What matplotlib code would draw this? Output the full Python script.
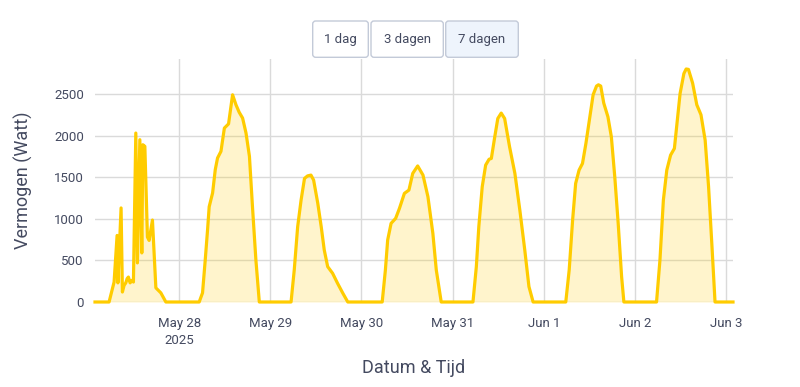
import matplotlib
matplotlib.use("Agg")
import matplotlib.pyplot as plt
from matplotlib.patches import FancyBboxPatch
from matplotlib.transforms import IdentityTransform
import pandas as pd

plt.rcParams["font.family"] = ["Roboto", "DejaVu Sans"]

# window shown by the "7 dagen" view
start = "2025-05-27 01:50"
end = "2025-06-03 01:50"

# per day: hour of day -> power (W)
may27_hours = [5.54, 6.86, 7.65, 7.86, 8.70, 9.05, 9.49, 9.94, 10.29, 10.63, 11.08, 11.53, 11.95,
               12.58, 13.00, 13.64, 14.16, 14.43, 14.96, 15.64, 16.09, 16.96, 17.86, 19.17, 20.49]
may27_watts = [0, 240, 800, 230, 1130, 120, 200, 230, 280, 300, 230, 260, 240,
               2030, 470, 1950, 590, 1890, 1870, 780, 740, 985, 170, 110, 0]

may28_hours = [5.27, 6.15, 6.86, 7.47, 7.9, 8.8, 9.5, 10.1, 11.0, 11.9, 13.0, 14.06, 14.95,
               15.8, 16.7, 17.6, 18.5, 19.3, 20.2, 21.1]
may28_watts = [0, 110, 505, 865, 1145, 1310, 1590, 1730, 1810, 2090, 2140, 2490, 2370,
               2280, 2210, 2030, 1750, 1145, 505, 0]

may29_hours = [5.46, 6.3, 7.2, 8.1, 9.0, 9.8, 10.7, 11.4, 12.5, 13.4, 14.2, 15.1, 16.4, 17.7, 19.1, 20.4]
may29_watts = [0, 385, 905, 1225, 1485, 1515, 1525, 1465, 1185, 905, 625, 425, 345, 225, 105, 0]

may30_hours = [5.46, 6.3, 6.9, 7.8, 9.0, 10.0, 11.3, 12.5, 13.5, 14.8, 16.2, 17.5, 18.8, 19.7, 21.0]
may30_watts = [0, 385, 745, 945, 1005, 1125, 1305, 1345, 1545, 1635, 1525, 1265, 825, 385, 0]

may31_hours = [5.36, 6.25, 6.9, 7.8, 8.7, 9.6, 10.2, 11.1, 11.9, 12.8, 13.7, 15.0, 16.4, 17.7, 19.0, 20.1, 21.2]
may31_watts = [0, 425, 905, 1385, 1645, 1715, 1725, 1985, 2205, 2270, 2205, 1865, 1545, 1105, 625, 185, 0]

jun1_hours = [5.8, 6.7, 7.6, 8.4, 9.3, 10.2, 11.1, 12.0, 13.0, 13.9, 14.4, 15.0, 15.8, 16.9,
              17.8, 18.7, 19.6, 20.5, 21.1]
jun1_watts = [0, 385, 985, 1425, 1585, 1665, 1905, 2185, 2490, 2595, 2610, 2595, 2390, 2225,
              1985, 1505, 945, 305, 0]

jun2_hours = [5.7, 6.6, 7.5, 8.4, 9.4, 10.4, 11.0, 11.9, 12.9, 13.5, 14.1, 15.2, 16.3, 17.4,
              18.5, 19.4, 20.3, 21.1]
jun2_watts = [0, 505, 1225, 1585, 1765, 1845, 2105, 2505, 2745, 2800, 2795, 2630, 2370, 2250,
              1945, 1385, 665, 0]

days = ["2025-05-27", "2025-05-28", "2025-05-29", "2025-05-30", "2025-05-31", "2025-06-01", "2025-06-02"]
day_hours = [may27_hours, may28_hours, may29_hours, may30_hours, may31_hours, jun1_hours, jun2_hours]
day_watts = [may27_watts, may28_watts, may29_watts, may30_watts, may31_watts, jun1_watts, jun2_watts]

tick_dates = ["2025-05-28", "2025-05-29", "2025-05-30", "2025-05-31", "2025-06-01", "2025-06-02", "2025-06-03"]
tick_labels = ["May 28\n2025", "May 29", "May 30", "May 31", "Jun 1", "Jun 2", "Jun 3"]
range_buttons = ["1 dag", "3 dagen", "7 dagen"]

# build one series
times = [pd.Timestamp(start)]
watts = [0]
for day, hrs, vals in zip(days, day_hours, day_watts):
    for h, v in zip(hrs, vals):
        times.append(pd.Timestamp(day) + pd.Timedelta(hours=h))
        watts.append(v)
times.append(pd.Timestamp(end))
watts.append(0)

text_color = "#444a60"
grid_color = "#dadada"
line_color = "#ffcc00"

fig = plt.figure(figsize=(8, 3.87), dpi=100)
ax = fig.add_axes([95 / 800, 85 / 387, 638 / 800, 243 / 387])

ax.fill_between(times, watts, 0, color=line_color, alpha=0.2, linewidth=0)
ax.plot(times, watts, color=line_color, linewidth=2.3, solid_joinstyle="round", clip_on=False)

ax.set_xlim(pd.Timestamp(start), pd.Timestamp(end))
ax.set_ylim(0, 2920)
ax.set_yticks([0, 500, 1000, 1500, 2000, 2500])
ax.set_xticks([pd.Timestamp(d) for d in tick_dates])
ax.set_xticklabels(tick_labels, linespacing=1.35)

ax.grid(True, color=grid_color, linewidth=1)
ax.set_axisbelow(True)
for s in ax.spines.values():
    s.set_visible(False)
ax.tick_params(axis="both", length=0, labelsize=9.5, colors=text_color)
ax.tick_params(axis="x", pad=11)
ax.tick_params(axis="y", pad=8)

ax.set_ylabel("Vermogen (Watt)", fontsize=13, color=text_color)
ax.yaxis.set_label_coords(-0.097, 0.5)
ax.set_xlabel("Datum & Tijd", fontsize=13, color=text_color)
ax.xaxis.set_label_coords(0.5, -0.235)

# range selector buttons (pixel coordinates)
btn_x = [312.7, 371, 445.7]
btn_w = [55.6, 72.3, 72.6]
for i, (label, bx, bw) in enumerate(zip(range_buttons, btn_x, btn_w)):
    face = "#eef4fc" if i == 2 else "white"
    box = FancyBboxPatch((bx, 387 - 57.3), bw, 36.3,
                         boxstyle="round,pad=0,rounding_size=3",
                         transform=IdentityTransform(), facecolor=face,
                         edgecolor="#c3cad8", linewidth=1)
    fig.patches.append(box)
    fig.text(bx + bw / 2, 387 - 39, label, transform=IdentityTransform(),
             ha="center", va="center", fontsize=9.5, color=text_color)

fig.savefig("out.png", dpi=100)
